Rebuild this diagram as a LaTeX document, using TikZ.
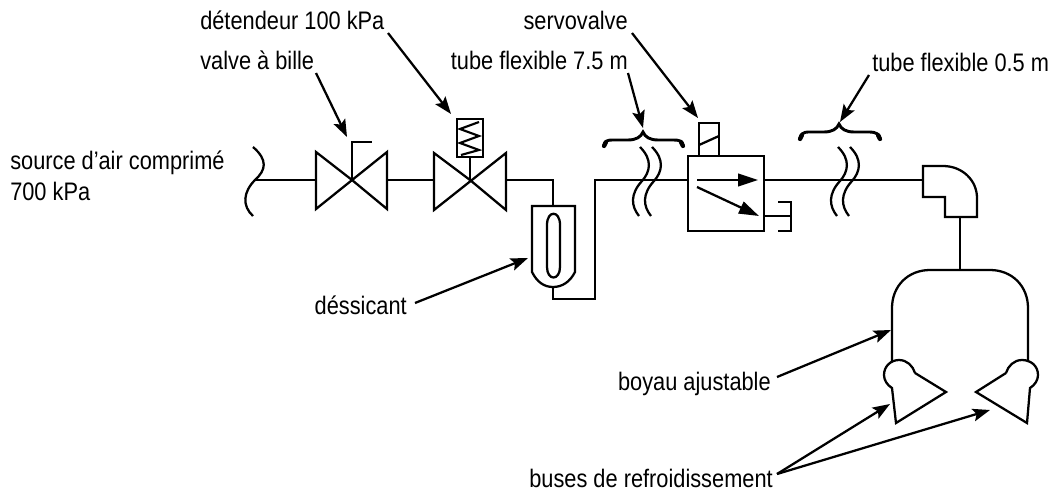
\documentclass[tikz,border=0pt]{standalone}
\usepackage{fontspec}
\setmainfont[FakeStretch=0.86]{Liberation Sans}
\usetikzlibrary{arrows.meta}
\tikzset{
 pipe/.style={line width=1.7pt,line join=miter},
 lead/.style={line width=1.7pt,-{Stealth[length=13pt,width=9.5pt,inset=2.5pt]}},
 flow/.style={line width=1.7pt,-{Stealth[length=15pt,width=9.5pt,inset=0pt]}},
 brc/.style={line width=2.2pt,line cap=round},
 brcend/.style={line width=3.2pt,line cap=round},
 lab/.style={inner sep=0pt,font=\fontsize{19}{22}\selectfont,anchor=base west},
 labr/.style={inner sep=0pt,font=\fontsize{19}{22}\selectfont,anchor=base east},
}
\begin{document}
\begin{tikzpicture}[x=0.75pt,y=-0.75pt]
\useasboundingbox (0,0) rectangle (1054,493);
% labels
\node[lab] (t1) at (200,69) {valve à bille};
\node[lab] (t2) at (200,29) {détendeur 100 kPa};
\node[lab] (t3) at (10,169) {source d’air comprimé};
\node[lab] (t4) at (10,200) {700 kPa};
\node[labr] (t5) at (628,69) {tube flexible 7.5 m};
\node[labr] (t6) at (628,29) {servovalve};
\node[lab] (t7) at (872,71) {tube flexible 0.5 m};
\node[labr] (t8) at (407,314) {déssicant};
\node[labr] (t9) at (771,390) {boyau ajustable};
\node[labr] (t10) at (773,487) {buses de refroidissement};
% pipes
\draw[pipe] (255,180) -- (316,180);
\draw[pipe] (387,180) -- (434,180);
\draw[pipe] (506,180) -- (553,180) -- (553,206);
\draw[pipe] (553,287) -- (553,299) -- (595,299) -- (595,180) -- (688,180);
\draw[pipe] (764,180) -- (923,180);
\draw[pipe] (960,217) -- (960,270);
% breaks
\draw[pipe] (253,147) .. controls (268,160) and (266,170) .. (255,180) .. controls (243,192) and (242,206) .. (253,216);
\foreach \xx in {640,652,838,850}{
 \draw[pipe] (\xx,147) .. controls (\xx+13,160) and (\xx+10,172) .. (\xx+2,181) .. controls (\xx-10,194) and (\xx-9,206) .. (\xx-1,216);
}
% valves
\draw[pipe] (352,180) -- (316,152) -- (316,209) -- (387,152) -- (387,209) -- cycle;
\draw[pipe] (352,180) -- (352,142) -- (372,142);
\draw[pipe] (470,180) -- (434,153) -- (434,210) -- (506,153) -- (506,210) -- cycle;
\draw[pipe] (470,180) -- (470,157);
\node[draw,line width=1.7pt,minimum width=19.5pt,minimum height=28.5pt,inner sep=0pt] (sp) at (470,138) {};
\draw[line width=1.6pt] (479,122) -- (460,129) -- (479,136) -- (460,143) -- (479,150) -- (461,155);
% dessicant
\draw[pipe] (532,206) -- (575,206) -- (575,272) .. controls (570,282) and (562,287) .. (553,287) .. controls (544,287) and (537,282) .. (532,272) -- cycle;
\draw[pipe] (547,225) .. controls (547,210) and (560,210) .. (560,225) -- (560,267) .. controls (560,281) and (547,281) .. (547,267) -- cycle;
% servo
\node[draw,line width=1.7pt,minimum width=57pt,minimum height=56.25pt,inner sep=0pt] (sv) at (726,193.5) {};
\draw[pipe] (699,156) -- (699,123) -- (719,123) -- (719,156);
\draw[pipe] (699,145) -- (719,136);
\draw[flow] (697,180) -- (758,180);
\draw[flow] (697,187) -- (759,216);
\draw[pipe] (764,216) -- (791,216);
\draw[pipe] (778,202) -- (791,202) -- (791,231) -- (778,231);
% elbow
\draw[pipe] (923,166) -- (943,166) .. controls (962,166) and (977,180) .. (977,198) -- (977,217) -- (945,217) -- (945,197) -- (923,197) -- cycle;
% hood
\draw[pipe] (892,362) -- (892,308) .. controls (892,286) and (908,270) .. (930,270) -- (990,270) .. controls (1012,270) and (1028,286) .. (1028,308) -- (1028,362);
% nozzles
\draw[pipe] (915,373) -- (946,392) -- (896,423) -- (892,388) .. controls (887,385) and (884,380) .. (884,375) .. controls (884,366) and (891,360) .. (899,360) .. controls (907,360) and (913,366) .. (915,373);
\draw[pipe] (1006,373) -- (976,392) -- (1027,423) -- (1030,388) .. controls (1035,385) and (1038,380) .. (1038,375) .. controls (1038,366) and (1031,360) .. (1022,360) .. controls (1014,360) and (1008,366) .. (1006,373);
% braces
\draw[brc] (604,146) .. controls (604,141) and (608,140) .. (612,140) -- (628,140) .. controls (636,140) and (641,137) .. (643,132) .. controls (645,137) and (650,140) .. (658,140) -- (674,140) .. controls (679,140) and (683,141) .. (683,146);
\draw[brcend] (604,146) -- (606,142) (683,146) -- (681,142);
\draw[brc] (800,139) .. controls (800,134) and (804,132) .. (808,132) -- (824,132) .. controls (832,132) and (837,129) .. (839,124) .. controls (841,129) and (846,132) .. (854,132) -- (870,132) .. controls (875,132) and (880,134) .. (880,139);
\draw[brcend] (800,139) -- (802,135) (880,139) -- (878,135);
% leaders
\coordinate (a1) at (347,137);
\coordinate (a2) at (451,114);
\coordinate (a3) at (643,128);
\coordinate (a4) at (698,118);
\coordinate (a5) at (840,122);
\coordinate (a6) at (528,258);
\coordinate (a7) at (891,330);
\coordinate (a8) at (890,404);
\coordinate (a9) at (990,410);
\coordinate (s1) at (316,73);
\coordinate (s2) at (388,33);
\coordinate (s3) at (628,73);
\coordinate (s4) at (632,33);
\coordinate (s5) at (869,75);
\coordinate (s6) at (415,303);
\coordinate (s7) at (777,377);
\coordinate (s8) at (777,474);
\draw[lead] (s1) -- (a1);
\draw[lead] (s2) -- (a2);
\draw[lead] (s3) -- (a3);
\draw[lead] (s4) -- (a4);
\draw[lead] (s5) -- (a5);
\draw[lead] (s6) -- (a6);
\draw[lead] (s7) -- (a7);
\draw[lead] (s8) -- (a8);
\draw[lead] (s8) -- (a9);
\end{tikzpicture}
\end{document}
